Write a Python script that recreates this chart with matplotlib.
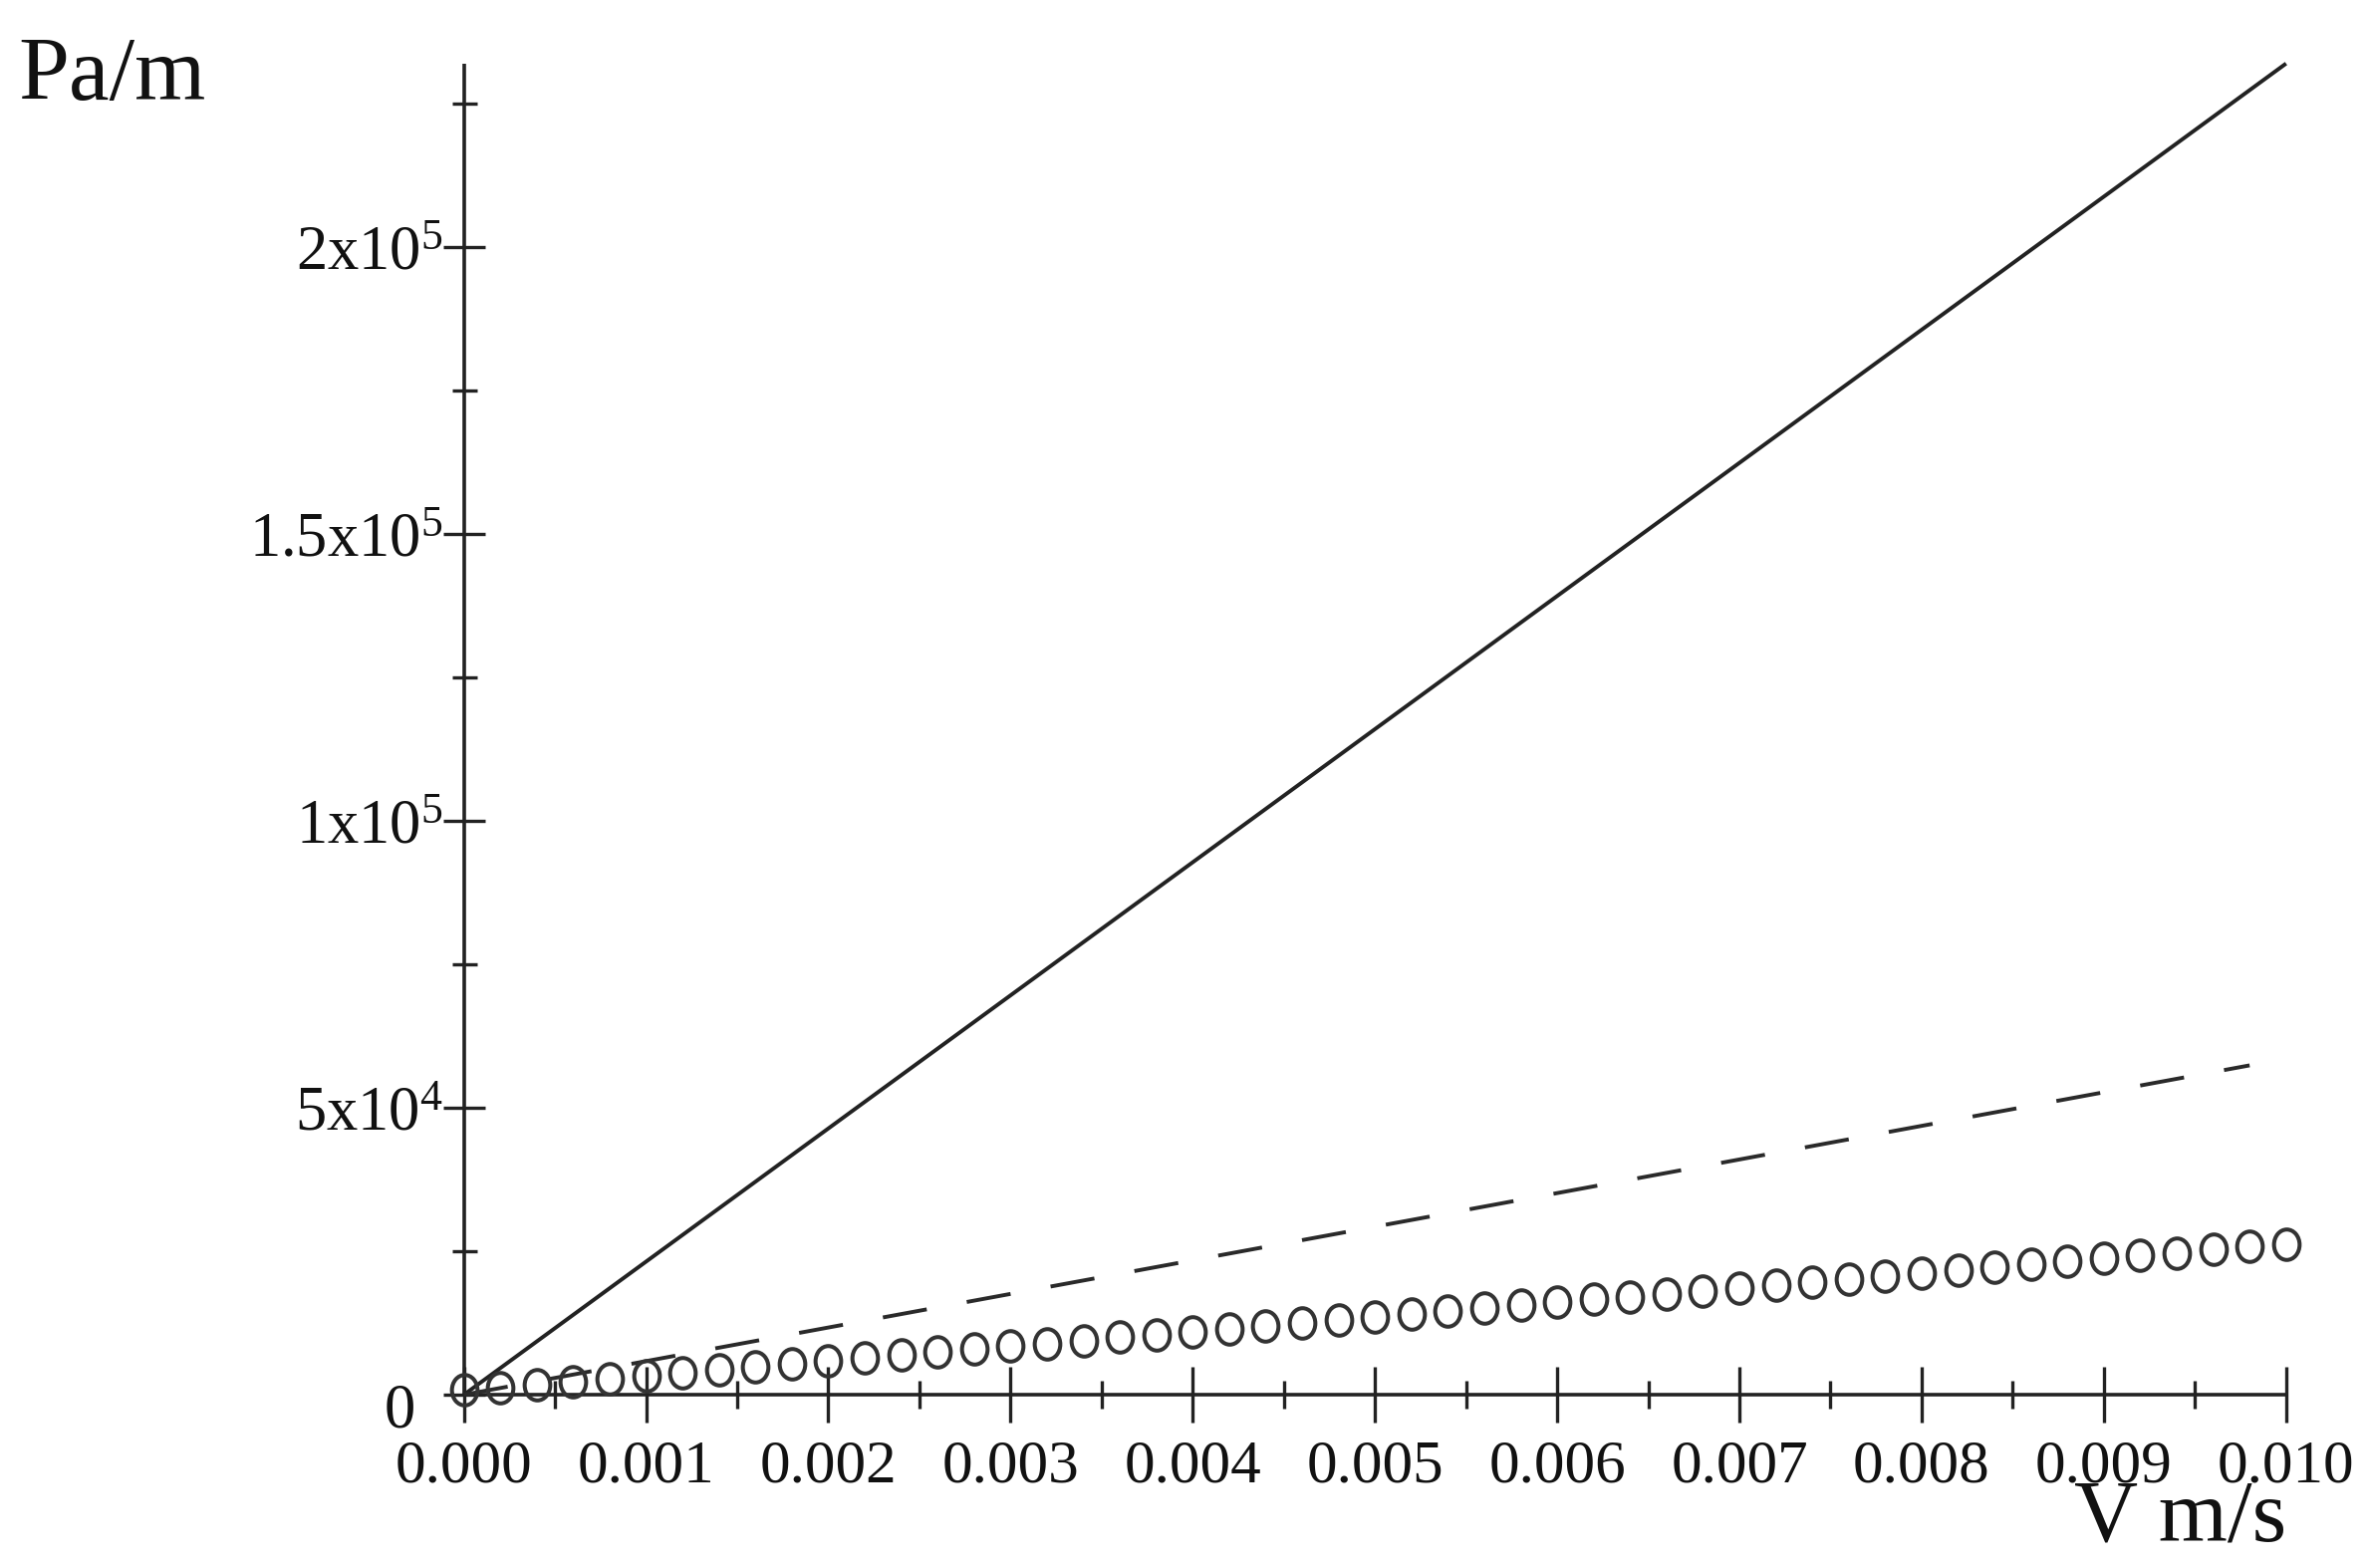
import matplotlib
matplotlib.use("Agg")
import matplotlib.pyplot as plt
from matplotlib.ticker import MultipleLocator, FixedLocator
from matplotlib.path import Path
from matplotlib.transforms import ScaledTranslation

plt.rcParams['font.family'] = ['Liberation Serif', 'DejaVu Serif']
plt.rcParams['mathtext.fontset'] = 'custom'
plt.rcParams['mathtext.rm'] = 'Liberation Serif'
plt.rcParams['mathtext.it'] = 'Liberation Serif'

# ---- data ----
solid_x = [0.0, 0.010]
solid_y = [0.0, 232000.0]

dashed_x = [0.0, 0.0098]
dashed_y = [0.0, 57400.0]

circle_x = [0.0000, 0.0002, 0.0004, 0.0006, 0.0008, 0.0010, 0.0012, 0.0014, 0.0016, 0.0018,
            0.0020, 0.0022, 0.0024, 0.0026, 0.0028, 0.0030, 0.0032, 0.0034, 0.0036, 0.0038,
            0.0040, 0.0042, 0.0044, 0.0046, 0.0048, 0.0050, 0.0052, 0.0054, 0.0056, 0.0058,
            0.0060, 0.0062, 0.0064, 0.0066, 0.0068, 0.0070, 0.0072, 0.0074, 0.0076, 0.0078,
            0.0080, 0.0082, 0.0084, 0.0086, 0.0088, 0.0090, 0.0092, 0.0094, 0.0096, 0.0098,
            0.0100]
circle_y = [800, 1300, 1800, 2300, 2850, 3350, 3900, 4400, 4900, 5400,
            5900, 6400, 6900, 7400, 7950, 8450, 8950, 9450, 10000, 10500,
            11000, 11500, 12000, 12500, 13050, 13550, 14050, 14550, 15100, 15600,
            16100, 16600, 17100, 17600, 18150, 18650, 19150, 19650, 20200, 20700,
            21200, 21700, 22200, 22700, 23250, 23750, 24250, 24750, 25300, 25800,
            26300]

x_ticks = [0.000, 0.001, 0.002, 0.003, 0.004, 0.005, 0.006, 0.007, 0.008, 0.009, 0.010]
x_tick_labels = ['0.000', '0.001', '0.002', '0.003', '0.004', '0.005',
                 '0.006', '0.007', '0.008', '0.009', '0.010']
y_ticks = [0, 50000, 100000, 150000, 200000]
y_tick_labels = ['0', '5x10$^{4}$', '1x10$^{5}$', '1.5x10$^{5}$', '2x10$^{5}$']

x_label = 'V m/s'
y_label = 'Pa/m'

# ---- figure ----
fig = plt.figure(figsize=(23.78, 15.74), dpi=100)
ax = fig.add_axes([0.1958, 0.1105, 0.965 - 0.1958, 0.9595 - 0.1105])

ax.set_xlim(0, 0.010)
ax.set_ylim(0, 232000)

ink = '#222222'
ax.plot(solid_x, solid_y, color=ink, lw=2.8, solid_capstyle='butt', clip_on=False, zorder=3)
dl, = ax.plot(dashed_x, dashed_y, color='#2a2a2a', lw=2.8, clip_on=False, zorder=3,
              dash_capstyle='butt')
dl.set_dashes((11.5, 10.5))

uc = Path.unit_circle()
ellipse = Path(uc.vertices * [0.84, 1.0], uc.codes)
ax.plot(circle_x, circle_y, linestyle='none', marker=ellipse, markersize=22,
        markerfacecolor='none', markeredgecolor='#333333', markeredgewidth=2.9,
        clip_on=False, zorder=4)

for side in ['top', 'right']:
    ax.spines[side].set_visible(False)
for side in ['left', 'bottom']:
    ax.spines[side].set_linewidth(2.6)
    ax.spines[side].set_color(ink)
    ax.spines[side].set_capstyle('butt')

ax.xaxis.set_major_locator(FixedLocator(x_ticks))
ax.set_xticklabels(x_tick_labels)
ax.xaxis.set_minor_locator(MultipleLocator(0.0005))
ax.yaxis.set_major_locator(FixedLocator(y_ticks))
ax.set_yticklabels(y_tick_labels)
ax.yaxis.set_minor_locator(MultipleLocator(25000))

ax.tick_params(axis='x', which='major', direction='inout', length=40, width=2.4,
               color=ink, labelsize=44, pad=12, labelcolor='#111111')
ax.tick_params(axis='x', which='minor', direction='inout', length=20, width=2.4, color=ink)
ax.tick_params(axis='y', which='major', direction='inout', length=30, width=2.4,
               color=ink, labelsize=45, pad=0, labelcolor='#111111')
ax.tick_params(axis='y', which='minor', direction='inout', length=18, width=2.4, color=ink)

lbl0 = ax.yaxis.get_major_ticks()[0].label1
lbl0.set_transform(lbl0.get_transform() + ScaledTranslation(-0.28, -0.10, fig.dpi_scale_trans))

fig.text(0.0077, 0.9365, y_label, fontsize=66, ha='left', va='baseline', color='#111111')
fig.text(0.965, 0.0172, x_label, fontsize=64, ha='right', va='baseline', color='#111111')

fig.savefig('out.png', dpi=100, facecolor='white')
